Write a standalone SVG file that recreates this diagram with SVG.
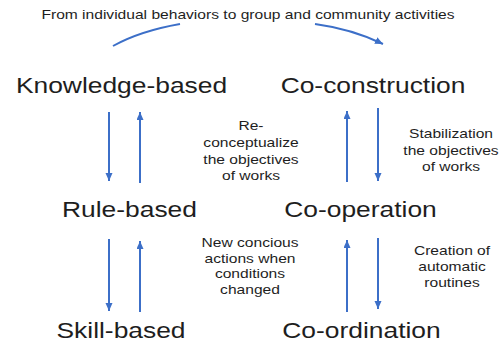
<svg xmlns="http://www.w3.org/2000/svg" width="501" height="345" viewBox="0 0 501 345">
<defs>
<marker id="ah" markerWidth="9" markerHeight="8" refX="8" refY="3.5" orient="auto" markerUnits="userSpaceOnUse">
<path d="M0,0 L8,3.5 L0,7 z" fill="#3c6fc8"/>
</marker>
<style>
.t{font-family:"Liberation Sans",Arial,sans-serif;fill:#1e1e1e;text-anchor:middle}
.big{font-size:22px}
.sm{font-size:13px}
.c{fill:none;stroke:#3c6fc8;stroke-width:2}
</style>
</defs>
<rect width="501" height="345" fill="#ffffff"/>
<g id="title">
<text class="t sm" transform="translate(248,19) scale(1.2,1)">From individual behaviors to group and community activities</text>
</g>
<g id="knowledge-based"><text class="t big" transform="translate(121.5,93) scale(1.2,1)">Knowledge-based</text></g>
<g id="co-construction"><text class="t big" transform="translate(373,93) scale(1.2,1)">Co-construction</text></g>
<g id="rule-based"><text class="t big" transform="translate(129.5,217) scale(1.2,1)">Rule-based</text></g>
<g id="co-operation"><text class="t big" transform="translate(360.5,217) scale(1.2,1)">Co-operation</text></g>
<g id="skill-based"><text class="t big" transform="translate(121,338) scale(1.2,1)">Skill-based</text></g>
<g id="co-ordination"><text class="t big" transform="translate(361.5,338) scale(1.2,1)">Co-ordination</text></g>
<g id="label-reconceptualize">
<text class="t sm" transform="translate(251,130) scale(1.2,1)">Re-</text>
<text class="t sm" transform="translate(251,147) scale(1.2,1)">conceptualize</text>
<text class="t sm" transform="translate(251,164) scale(1.2,1)">the objectives</text>
<text class="t sm" transform="translate(251,180) scale(1.2,1)">of works</text>
</g>
<g id="label-stabilization">
<text class="t sm" transform="translate(451,138) scale(1.2,1)">Stabilization</text>
<text class="t sm" transform="translate(451,155) scale(1.2,1)">the objectives</text>
<text class="t sm" transform="translate(451,171) scale(1.2,1)">of works</text>
</g>
<g id="label-new-concious">
<text class="t sm" transform="translate(250,247) scale(1.2,1)">New concious</text>
<text class="t sm" transform="translate(250,262.5) scale(1.2,1)">actions when</text>
<text class="t sm" transform="translate(250,278) scale(1.2,1)">conditions</text>
<text class="t sm" transform="translate(250,293.5) scale(1.2,1)">changed</text>
</g>
<g id="label-creation">
<text class="t sm" transform="translate(452,255) scale(1.2,1)">Creation of</text>
<text class="t sm" transform="translate(452,271) scale(1.2,1)">automatic</text>
<text class="t sm" transform="translate(452,287) scale(1.2,1)">routines</text>
</g>
<g id="connectors">
<path class="c" d="M113,46 Q140,31 180,24"/>
<path class="c" d="M315,24 Q352,29 383,44" marker-end="url(#ah)"/>
<line class="c" x1="109" y1="112" x2="109" y2="181" marker-end="url(#ah)"/>
<line class="c" x1="140" y1="183" x2="140" y2="112" marker-end="url(#ah)"/>
<line class="c" x1="347" y1="182" x2="347" y2="111" marker-end="url(#ah)"/>
<line class="c" x1="378" y1="108" x2="378" y2="181" marker-end="url(#ah)"/>
<line class="c" x1="109" y1="239" x2="109" y2="311" marker-end="url(#ah)"/>
<line class="c" x1="140" y1="312" x2="140" y2="241" marker-end="url(#ah)"/>
<line class="c" x1="347" y1="312" x2="347" y2="240" marker-end="url(#ah)"/>
<line class="c" x1="378" y1="238" x2="378" y2="309" marker-end="url(#ah)"/>
</g>
</svg>
